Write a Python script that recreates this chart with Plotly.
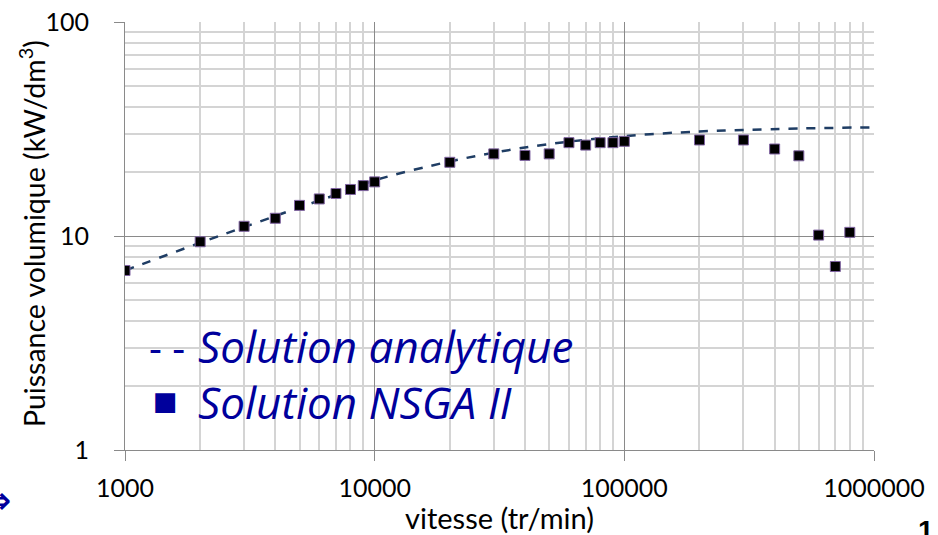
import plotly.graph_objects as go

# NSGA II optimisation results: speed (tr/min) vs volumetric power (kW/dm3)
speed_nsga = [1000, 2000, 3000, 4000, 5000, 6000, 7000, 8000, 9000, 10000,
              20000, 30000, 40000, 50000, 60000, 70000, 80000, 90000, 100000,
              200000, 300000, 400000, 500000, 600000, 700000, 800000]
power_nsga = [6.9, 9.4, 11.1, 12.1, 13.9, 14.9, 15.8, 16.5, 17.2, 17.9,
              22.1, 24.2, 23.8, 24.2, 27.3, 26.6, 27.3, 27.3, 27.7,
              28.1, 28.1, 25.5, 23.7, 10.1, 7.2, 10.4]

# Analytical solution curve
speed_analytic = [1000, 2000, 3000, 5000, 7000, 10000, 20000, 30000, 50000,
                  100000, 200000, 300000, 500000, 1000000]
power_analytic = [6.9, 9.3, 11.0, 13.6, 15.6, 18.2, 22.3, 24.5, 26.9,
                  29.3, 30.8, 31.3, 31.8, 32.2]

x_ticks = [1000, 10000, 100000, 1000000]
x_labels = ["1000", "10000", "100000", "1000000"]
y_ticks = [1, 10, 100]
y_labels = ["1", "10", "100"]

x_minor = [m * 10 ** d for d in (3, 4, 5) for m in range(2, 10)]
y_minor = [m * 10 ** d for d in (0, 1) for m in range(2, 10)]

FONT = "Lato"
MAJOR = "#8a8a8a"
MINOR = "#d4d4d4"
LEGEND_BLUE = "#00009c"

fig = go.Figure()
fig.add_trace(go.Scatter(
    x=speed_analytic, y=power_analytic, mode="lines",
    line=dict(color="#1f3d64", width=2.5, dash="dash", shape="spline"),
    showlegend=False,
))
fig.add_trace(go.Scatter(
    x=speed_nsga, y=power_nsga, mode="markers",
    marker=dict(symbol="square", size=10, color="black",
                line=dict(color="#8064a2", width=1)),
    showlegend=False,
))

L, R, T, B = 125, 874, 22, 450
W, H = 938, 535


def px(xp):
    return (xp - L) / (R - L)


def py(yp):
    return (B - yp) / (B - T)


def note(xp, yp, text, font, xanchor="left", angle=0):
    return dict(x=px(xp), y=py(yp), xref="paper", yref="paper", text=text,
                xanchor=xanchor, yanchor="middle", font=font, showarrow=False,
                textangle=angle)


legend_font = dict(family="Open Sans", size=44, color=LEGEND_BLUE)
annots = [
    note(147, 346, "- -", dict(family="Open Sans", size=40, color=LEGEND_BLUE)),
    note(196, 346, "<i>Solution analytique</i>", legend_font),
    note(151, 401, "■", dict(family="DejaVu Sans", size=26, color=LEGEND_BLUE)),
    note(196, 402, "<i>Solution NSGA II</i>", legend_font),
    # y-axis title, rotated
    note(32, 234, "Puissance volumique (kW/dm<sup>3</sup>)",
         dict(family=FONT, size=28.5, color="black"), "center", -90),
    note(14, 500, "⇒", dict(family="DejaVu Sans", size=40, color=LEGEND_BLUE), "right"),
    note(936, 530, "<b>1</b>", dict(family="Liberation Sans", size=28, color="black"), "right"),
]

fig.update_layout(
    width=W, height=H,
    margin=dict(l=L, r=W - R, t=T, b=H - B),
    paper_bgcolor="white", plot_bgcolor="white",
    font=dict(family=FONT, color="black"),
    annotations=annots,
)

fig.update_xaxes(
    type="log", range=[3, 6], automargin=False,
    tickvals=x_ticks, ticktext=x_labels,
    tickfont=dict(size=25, family=FONT, color="black"),
    showgrid=True, gridcolor=MAJOR, gridwidth=1,
    showline=True, linecolor=MAJOR, linewidth=1,
    ticks="outside", ticklen=10, tickcolor=MAJOR,
    ticklabelstandoff=6,
    minor=dict(tickmode="array", tickvals=x_minor, showgrid=True,
               gridcolor=MINOR, gridwidth=1.5, ticks=""),
    title=dict(text="vitesse (tr/min)", font=dict(size=29, family=FONT, color="black"),
               standoff=0),
    zeroline=False,
)
fig.update_yaxes(
    type="log", range=[0, 2], automargin=False,
    tickvals=y_ticks, ticktext=y_labels,
    tickfont=dict(size=25, family=FONT, color="black"),
    showgrid=True, gridcolor=MAJOR, gridwidth=1,
    showline=True, linecolor=MAJOR, linewidth=1,
    ticks="outside", ticklen=10, tickcolor=MAJOR,
    ticklabelstandoff=20,
    minor=dict(tickmode="array", tickvals=y_minor, showgrid=True,
               gridcolor=MINOR, gridwidth=1.5, ticks=""),
    zeroline=False,
)

fig.write_html("out.html")
